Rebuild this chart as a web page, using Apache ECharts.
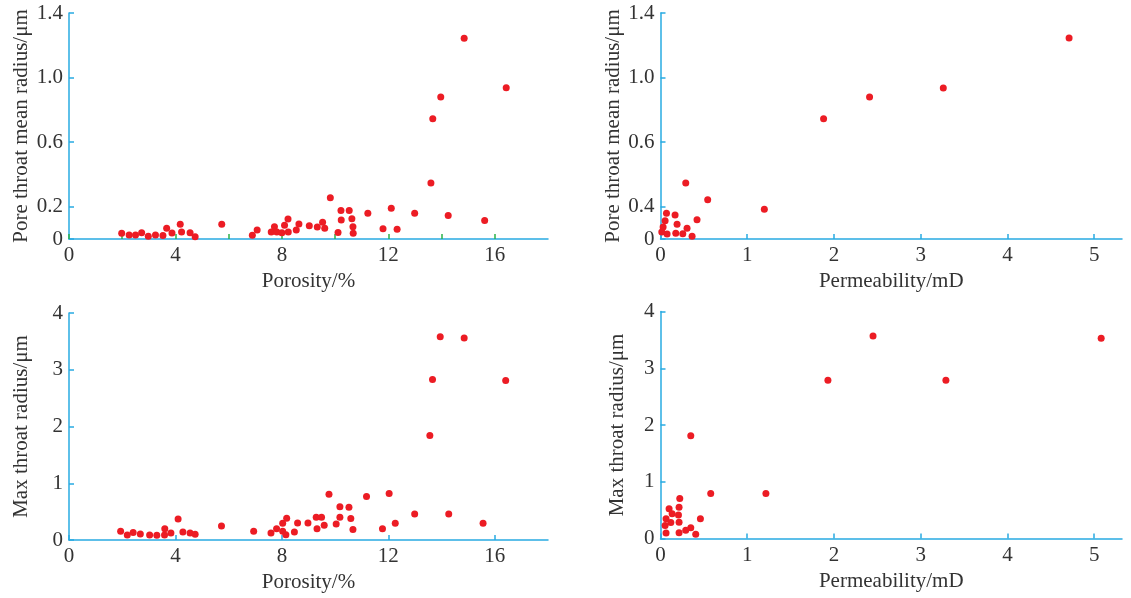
<!DOCTYPE html>
<html>
<head>
<meta charset="utf-8">
<script src="https://cdn.jsdelivr.net/npm/echarts@6/dist/echarts.min.js"></script>
<style>html,body{margin:0;padding:0;background:#fff;}#c{width:1131px;height:598px;}</style>
</head>
<body>
<div id="c"></div>
<script>
// Top-left: porosity vs pore throat mean radius
const tlPorosity = [1.98,2.26,2.50,2.73,2.98,3.25,3.53,3.67,3.87,4.18,4.23,4.55,4.74,5.74,6.89,7.07,7.60,7.72,7.81,8.00,8.10,8.24,8.23,8.54,8.64,9.03,9.33,9.53,9.61,9.82,10.11,10.23,10.22,10.53,10.63,10.67,10.68,11.23,11.80,12.11,12.33,12.99,13.60,14.25,15.62,13.67,13.97,14.85,16.43];
const tlMean = [0.035,0.025,0.025,0.039,0.017,0.025,0.021,0.066,0.037,0.091,0.043,0.039,0.014,0.091,0.023,0.056,0.043,0.076,0.043,0.039,0.085,0.043,0.124,0.056,0.093,0.082,0.074,0.103,0.066,0.256,0.041,0.118,0.176,0.176,0.126,0.076,0.035,0.159,0.064,0.190,0.060,0.159,0.347,0.145,0.114,0.745,0.880,1.243,0.937];

// Bottom-left: porosity vs max throat radius
const blPorosity = [1.94,2.19,2.41,2.68,3.03,3.30,3.59,3.60,3.83,4.10,4.28,4.55,4.74,5.73,6.94,7.59,7.80,8.03,8.03,8.15,8.18,8.47,8.59,8.98,9.29,9.32,9.49,9.59,9.77,10.04,10.18,10.18,10.52,10.59,10.67,11.18,11.78,12.03,12.26,12.99,14.27,15.56,13.95,14.85,13.66,16.41,13.56];
const blMax = [0.154,0.088,0.13,0.106,0.088,0.083,0.088,0.2,0.124,0.372,0.142,0.124,0.1,0.248,0.154,0.124,0.2,0.295,0.154,0.094,0.384,0.142,0.301,0.301,0.401,0.2,0.401,0.26,0.808,0.283,0.401,0.584,0.578,0.377,0.183,0.767,0.2,0.82,0.295,0.46,0.46,0.295,3.58,3.56,2.83,2.81,1.84];

// Top-right: permeability vs pore throat mean radius
const trPerm = [0.544,0.069,0.168,0.053,0.421,0.191,0.030,0.306,0.015,0.076,0.176,0.257,0.364,0.291,1.197,1.88,2.41,3.26,4.71];
const trMean = [0.243,0.159,0.149,0.113,0.120,0.091,0.074,0.066,0.043,0.031,0.035,0.033,0.017,0.347,0.184,0.745,0.880,0.935,1.245];

// Bottom-right: permeability vs max throat radius
const brPerm = [0.349,0.579,1.215,0.222,0.214,0.099,0.134,0.207,0.064,0.460,0.119,0.214,0.053,0.349,0.291,0.064,0.214,0.406,1.93,2.45,3.29,5.08];
const brMax = [1.81,0.793,0.793,0.705,0.552,0.526,0.434,0.412,0.35,0.35,0.28,0.287,0.227,0.191,0.145,0.097,0.103,0.074,2.79,3.57,2.79,3.53];

// Tick labels
const meanTicksLeft = [0, 0.2, 0.6, 1.0, 1.4];
const meanLabelsLeft = ['0', '0.2', '0.6', '1.0', '1.4'];
const meanTicksRight = [0, 0.2, 0.6, 1.0, 1.4];
const meanLabelsRight = ['0', '0.4', '0.6', '1.0', '1.4'];

const AX = '#29abe2';
const TXT = '#333333';
const FONT = '"Liberation Serif", "DejaVu Serif", serif';
const DOT = '#ec1c24';

const zip = (a, b) => a.map((v, i) => [v, b[i]]);

const grids = [
  {left: 69, top: 13, width: 479, height: 226},
  {left: 660.5, top: 13, width: 461.5, height: 226},
  {left: 69, top: 313, width: 479, height: 227},
  {left: 660.5, top: 311.5, width: 461.5, height: 227}
];

function xAx(gi, name, max, interval, tickColor, labelStep) {
  return {
    type: 'value', gridIndex: gi, min: 0, max: max, interval: interval,
    name: name, nameLocation: 'middle', nameGap: 32,
    nameTextStyle: {fontFamily: FONT, fontSize: 21, color: TXT},
    axisLine: {show: true, lineStyle: {color: AX, width: 1.5}},
    axisTick: {show: true, inside: true, length: 5, lineStyle: {color: tickColor, width: 1.5}},
    splitLine: {show: false},
    axisLabel: {fontFamily: FONT, fontSize: 21, color: TXT, margin: 6, showMaxLabel: false,
      formatter: v => (Math.abs(v / labelStep - Math.round(v / labelStep)) < 1e-6 ? String(v) : '')}
  };
}

function yAx(gi, name, max, ticks, labels, gap) {
  const o = {
    type: 'value', gridIndex: gi, min: 0, max: max,
    name: name, nameLocation: 'middle', nameGap: gap,
    nameTextStyle: {fontFamily: FONT, fontSize: 21, color: TXT},
    axisLine: {show: true, lineStyle: {color: AX, width: 1.5}},
    axisTick: {show: true, inside: true, length: 5, lineStyle: {color: AX, width: 1.5}},
    splitLine: {show: false},
    axisLabel: {fontFamily: FONT, fontSize: 21, color: TXT, margin: 6}
  };
  if (ticks) {
    o.axisTick.customValues = ticks;
    o.axisLabel.customValues = ticks;
    o.axisLabel.formatter = v => {
      const i = ticks.findIndex(t => Math.abs(t - v) < 1e-6);
      return i >= 0 ? labels[i] : '';
    };
  } else {
    o.interval = 1;
  }
  return o;
}

const chart = echarts.init(document.getElementById('c'), null, {renderer: 'canvas'});
chart.setOption({
  backgroundColor: '#ffffff',
  animation: false,
  grid: grids.map(g => Object.assign({outerBoundsMode: 'none', containLabel: false}, g)),
  xAxis: [
    xAx(0, 'Porosity/%', 18, 2, '#2bb34a', 4),
    xAx(1, 'Permeability/mD', 5.32, 1, AX, 1),
    xAx(2, 'Porosity/%', 18, 4, AX, 4),
    xAx(3, 'Permeability/mD', 5.32, 1, AX, 1)
  ],
  yAxis: [
    yAx(0, 'Pore throat mean radius/μm', 1.4, meanTicksLeft, meanLabelsLeft, 37),
    yAx(1, 'Pore throat mean radius/μm', 1.4, meanTicksRight, meanLabelsRight, 33),
    yAx(2, 'Max throat radius/μm', 4, null, null, 37),
    yAx(3, 'Max throat radius/μm', 4, null, null, 33)
  ],
  series: [
    {type: 'scatter', xAxisIndex: 0, yAxisIndex: 0, data: zip(tlPorosity, tlMean)},
    {type: 'scatter', xAxisIndex: 1, yAxisIndex: 1, data: zip(trPerm, trMean)},
    {type: 'scatter', xAxisIndex: 2, yAxisIndex: 2, data: zip(blPorosity, blMax)},
    {type: 'scatter', xAxisIndex: 3, yAxisIndex: 3, data: zip(brPerm, brMax)}
  ].map(s => Object.assign(s, {symbol: 'circle', symbolSize: 7, itemStyle: {color: DOT, opacity: 1}, silent: true}))
});
</script>
</body>
</html>
